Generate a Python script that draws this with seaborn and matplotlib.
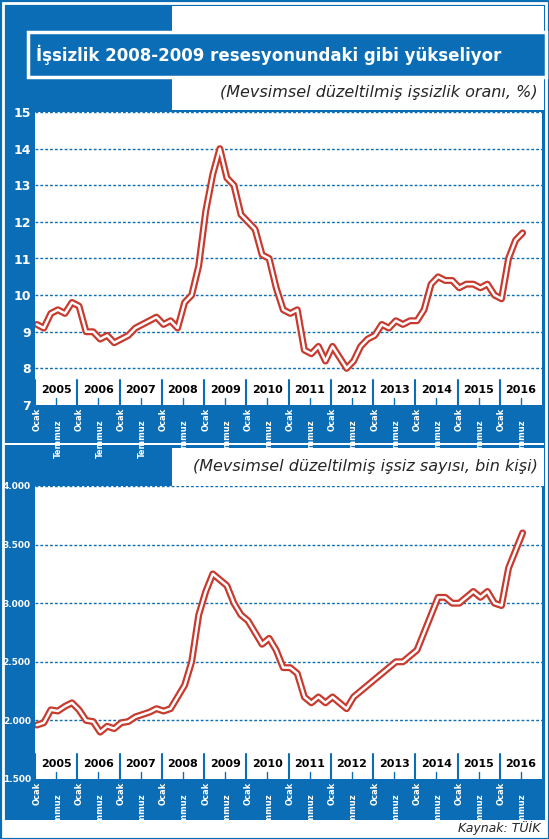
import numpy as np
import pandas as pd
import matplotlib
matplotlib.use("Agg")
import matplotlib.pyplot as plt
import matplotlib.transforms as mtrans
import seaborn as sns
from matplotlib.patches import Rectangle

# --- Data (every second month, Ocak 2005 - Temmuz 2016) ---
rate = [9.2, 9.1, 9.5, 9.6, 9.5, 9.8,
        9.7, 9.0, 9.0, 8.8, 8.9, 8.7,
        8.8, 8.9, 9.1, 9.2, 9.3, 9.4,
        9.2, 9.3, 9.1, 9.8, 10.0, 10.8,
        12.3, 13.3, 14.0, 13.2, 13.0, 12.2,
        12.0, 11.8, 11.1, 11.0, 10.2, 9.6,
        9.5, 9.6, 8.5, 8.4, 8.6, 8.2,
        8.6, 8.3, 8.0, 8.2, 8.6, 8.8,
        8.9, 9.2, 9.1, 9.3, 9.2, 9.3,
        9.3, 9.6, 10.3, 10.5, 10.4, 10.4,
        10.2, 10.3, 10.3, 10.2, 10.3, 10.0,
        9.9, 11.0, 11.5, 11.7]
count = [1960, 1980, 2090, 2080, 2120, 2150,
         2090, 2000, 1990, 1900, 1950, 1930,
         1980, 1990, 2030, 2050, 2070, 2100,
         2080, 2100, 2200, 2300, 2500, 2900,
         3100, 3250, 3200, 3150, 3000, 2900,
         2850, 2750, 2650, 2700, 2600, 2450,
         2450, 2400, 2200, 2150, 2200, 2150,
         2200, 2150, 2100, 2200, 2250, 2300,
         2350, 2400, 2450, 2500, 2500, 2550,
         2600, 2750, 2900, 3050, 3050, 3000,
         3000, 3050, 3100, 3050, 3100, 3000,
         2980, 3300, 3450, 3600]
years = list(range(2005, 2017))
rate_ticks = [7, 8, 9, 10, 11, 12, 13, 14, 15]
count_ticks = [1500, 2000, 2500, 3000, 3500, 4000]
count_labels = ["1.500", "2.000", "2.500", "3.000", "3.500", "4.000"]

x = 2005 + np.arange(len(rate)) * 2 / 12 + 1 / 24
df = pd.DataFrame({"x": x, "rate": rate, "count": count})

BLUE = "#0b6db5"
RED = "#c8392e"

sns.set_theme(style="white")
plt.rcParams["font.family"] = ["DejaVu Sans"]

W, H = 549, 839
fig = plt.figure(figsize=(W / 100, H / 100), dpi=100, facecolor=BLUE)


def box(x0, y0, x1, y1, **kw):
    fig.patches.append(Rectangle((x0 / W, 1 - y1 / H), (x1 - x0) / W, (y1 - y0) / H,
                                 transform=fig.transFigure, **kw))


# frame and header areas
box(3, 3, 546, 836, fill=False, ec="white", lw=2)
box(172, 6, 544, 110, fc="white", ec="none")
box(172, 448, 544, 486, fc="white", ec="none")
box(28, 32, 546, 77, fc=BLUE, ec="white", lw=2.5)
box(3, 820, 546, 836, fc="white", ec="none")
box(5, 443, 544, 445, fc="white", ec="none")

fig.text(36 / W, 1 - 55 / H, "İşsizlik 2008-2009 resesyonundaki gibi yükseliyor",
         color="white", fontsize=12, fontweight="bold", va="center", ha="left")
fig.text(538 / W, 1 - 92 / H, "(Mevsimsel düzeltilmiş işsizlik oranı, %)",
         fontsize=11.5, style="italic", ha="right", va="center")
fig.text(538 / W, 1 - 466 / H, "(Mevsimsel düzeltilmiş işsiz sayısı, bin kişi)",
         fontsize=11.5, style="italic", ha="right", va="center")
fig.text(540 / W, 1 - 828 / H, "Kaynak: TÜİK", fontsize=9, style="italic",
         ha="right", va="center")


def panel(top, bottom, col, yticks, ylabels, ymin, ymax, yfs):
    ax = fig.add_axes([35 / W, 1 - bottom / H, 507 / W, (bottom - top) / H])
    ax.set_facecolor("white")
    for s in ax.spines.values():
        s.set_visible(False)
    sns.lineplot(data=df, x="x", y=col, ax=ax, color=RED, lw=5, solid_capstyle="round")
    sns.lineplot(data=df, x="x", y=col, ax=ax, color="white", lw=1.8)
    ax.set_xlim(2005, 2017)
    ax.set_ylim(ymin, ymax)
    for v in yticks[1:]:
        ax.axhline(v, color=BLUE, lw=1, ls=(0, (2, 1.5)), zorder=0)
    ax.set_yticks(yticks)
    ax.set_yticklabels(ylabels, color="white", fontsize=yfs, fontweight="bold")
    ax.tick_params(axis="y", length=0, pad=3)
    pos = []
    labs = []
    for y in years:
        pos += [y + 1 / 24, y + 0.5 + 1 / 24]
        labs += ["Ocak", "Temmuz"]
    ax.set_xticks(pos)
    ax.set_xticklabels(labs, rotation=90, color="white", fontsize=6, fontweight="bold")
    ax.tick_params(axis="x", length=0, pad=2)
    for lab in ax.get_xticklabels()[1::2]:
        lab.set_transform(lab.get_transform() + mtrans.ScaledTranslation(0, -8 / 72, fig.dpi_scale_trans))
    hband = (ymax - ymin) * 0.085
    for y in years:
        ax.text(y + 0.5, ymin + hband * 0.6, str(y), ha="center", va="center",
                fontsize=8, fontweight="bold", color="black")
        ax.plot([y, y], [ymin, ymin + hband], color=BLUE, lw=1.5)
        ax.plot([y + 0.5, y + 0.5], [ymin, ymin + hband * 0.3], color=BLUE, lw=1)
    ax.set_xlabel("")
    ax.set_ylabel("")
    return ax


panel(112, 405, "rate", rate_ticks, [str(t) for t in rate_ticks], 7, 15, 9)
panel(486, 779, "count", count_ticks, count_labels, 1500, 4000, 6.5)

fig.savefig("out.png", dpi=100, facecolor=BLUE)
